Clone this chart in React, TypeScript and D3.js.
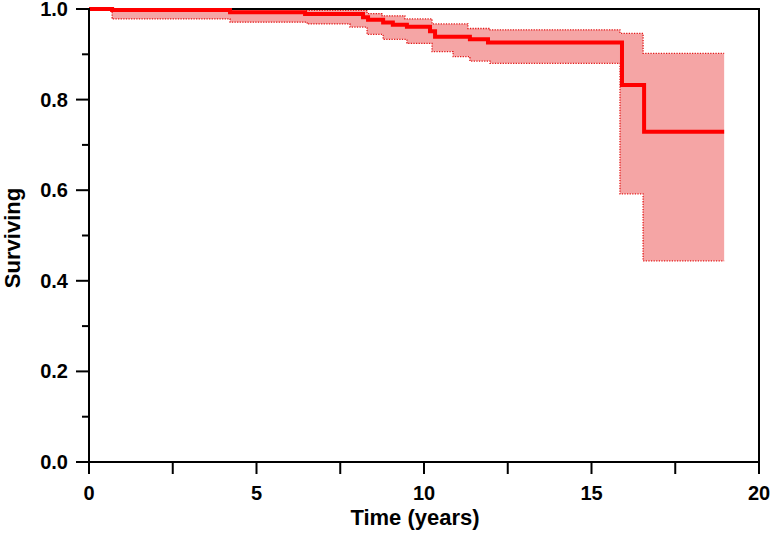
import React, { useEffect, useRef } from 'react';
import * as d3 from 'd3';

// Kaplan-Meier estimate (step after each time)
const survTimes = [0, 0.69, 4.21, 6.45, 8.18, 8.33, 8.78, 9.07, 9.49, 10.18, 10.33, 11.37, 11.91, 15.91, 16.57, 18.96];
const survValues = [1.0, 0.998, 0.993, 0.989, 0.982, 0.976, 0.970, 0.965, 0.961, 0.951, 0.939, 0.933, 0.926, 0.832, 0.729, 0.729];

// confidence limits
const upperTimes = [0, 6.45, 8.30, 8.75, 9.43, 10.24, 11.31, 11.97, 15.85, 16.54, 18.96];
const upperValues = [1.0, 0.997, 0.990, 0.985, 0.978, 0.967, 0.957, 0.954, 0.946, 0.902, 0.902];

const lowerTimes = [0, 0.69, 4.21, 6.51, 7.79, 8.30, 8.78, 9.49, 10.24, 10.87, 11.37, 11.97, 15.85, 16.54, 18.96];
const lowerValues = [1.0, 0.978, 0.971, 0.967, 0.960, 0.944, 0.933, 0.924, 0.906, 0.895, 0.885, 0.880, 0.592, 0.444, 0.444];

const xTicks = [0, 5, 10, 15, 20];
const yTicks = [0, 0.2, 0.4, 0.6, 0.8, 1.0];

const FONT = '"Liberation Sans", Arial, Helvetica, sans-serif';

const stepValue = (times: number[], values: number[], t: number) => {
  let v = values[0];
  for (let i = 0; i < times.length; i++) {
    if (times[i] <= t) v = values[i];
  }
  return v;
};

const App = () => {
  const svgRef = useRef<SVGSVGElement | null>(null);

  useEffect(() => {
    const svg = d3.select(svgRef.current);
    svg.selectAll('*').remove();

    const width = 774;
    const height = 534;
    const margin = { top: 9, right: 15, bottom: 72, left: 89 };

    const x = d3.scaleLinear().domain([0, 20]).range([margin.left, width - margin.right]);
    const y = d3.scaleLinear().domain([0, 1]).range([height - margin.bottom, margin.top]);

    // band
    const allTimes = Array.from(new Set([...upperTimes, ...lowerTimes])).sort((a, b) => a - b);
    const band = allTimes.map(t => ({
      t,
      lo: stepValue(lowerTimes, lowerValues, t),
      hi: stepValue(upperTimes, upperValues, t),
    }));

    const area = d3.area<{ t: number; lo: number; hi: number }>()
      .x(d => x(d.t))
      .y0(d => y(d.lo))
      .y1(d => y(d.hi))
      .curve(d3.curveStepAfter);

    svg.append('path')
      .attr('d', area(band))
      .attr('fill', '#f5a5a5');

    const line = d3.line<[number, number]>()
      .x(d => x(d[0]))
      .y(d => y(d[1]))
      .curve(d3.curveStepAfter);

    const limit = (times: number[], values: number[]) => {
      svg.append('path')
        .attr('d', line(times.map((t, i) => [t, values[i]] as [number, number])))
        .attr('fill', 'none')
        .attr('stroke', '#e31a1a')
        .attr('stroke-width', 1.3)
        .attr('stroke-dasharray', '1.3 1.3');
    };
    limit(upperTimes, upperValues);
    limit(lowerTimes, lowerValues);

    // frame
    const x0 = x(0), x1 = x(20), y0 = y(0), y1 = y(1);
    svg.append('path')
      .attr('d', `M${x0},${y1}H${x1}V${y0}`)
      .attr('fill', 'none')
      .attr('stroke', '#000')
      .attr('stroke-width', 2);

    // survival curve
    svg.append('path')
      .attr('d', line(survTimes.map((t, i) => [t, survValues[i]] as [number, number])))
      .attr('fill', 'none')
      .attr('stroke', '#ff0000')
      .attr('stroke-width', 4);

    // x axis
    const xAxis = svg.append('g').attr('stroke', '#000').attr('stroke-width', 2);
    xAxis.append('line').attr('x1', x0 - 12).attr('x2', x1).attr('y1', y0).attr('y2', y0);
    d3.range(0, 20.01, 2.5).forEach(t => {
      xAxis.append('line').attr('x1', x(t)).attr('x2', x(t)).attr('y1', y0).attr('y2', y0 + 12);
    });

    // y axis
    const yAxis = svg.append('g').attr('stroke', '#000').attr('stroke-width', 2);
    yAxis.append('line').attr('x1', x0).attr('x2', x0).attr('y1', y1 - 1).attr('y2', y0 + 12);
    d3.range(0, 11).forEach(i => {
      const v = i / 10;
      const len = i % 2 === 0 ? 13 : 7;
      yAxis.append('line').attr('x1', x0 - len).attr('x2', x0).attr('y1', y(v)).attr('y2', y(v));
    });

    svg.selectAll('.xlab')
      .data(xTicks)
      .enter().append('text')
      .attr('x', d => x(d))
      .attr('y', y0 + 38)
      .attr('text-anchor', 'middle')
      .attr('font-family', FONT)
      .attr('font-weight', 'bold')
      .attr('font-size', 20)
      .text(d => d);

    svg.selectAll('.ylab')
      .data(yTicks)
      .enter().append('text')
      .attr('x', x0 - 21)
      .attr('y', d => y(d) + 7)
      .attr('text-anchor', 'end')
      .attr('font-family', FONT)
      .attr('font-weight', 'bold')
      .attr('font-size', 20)
      .text(d => d3.format('.1f')(d));

    svg.append('text')
      .attr('x', 415)
      .attr('y', 525)
      .attr('text-anchor', 'middle')
      .attr('font-family', FONT)
      .attr('font-weight', 'bold')
      .attr('font-size', 22)
      .text('Time (years)');

    svg.append('text')
      .attr('transform', `translate(20,238) rotate(-90)`)
      .attr('text-anchor', 'middle')
      .attr('font-family', FONT)
      .attr('font-weight', 'bold')
      .attr('font-size', 22)
      .text('Surviving');
  }, []);

  return (
    <svg
      ref={svgRef}
      width={774}
      height={534}
      style={{ position: 'absolute', left: 0, top: 0, background: '#fff' }}
    />
  );
};

export default App;
